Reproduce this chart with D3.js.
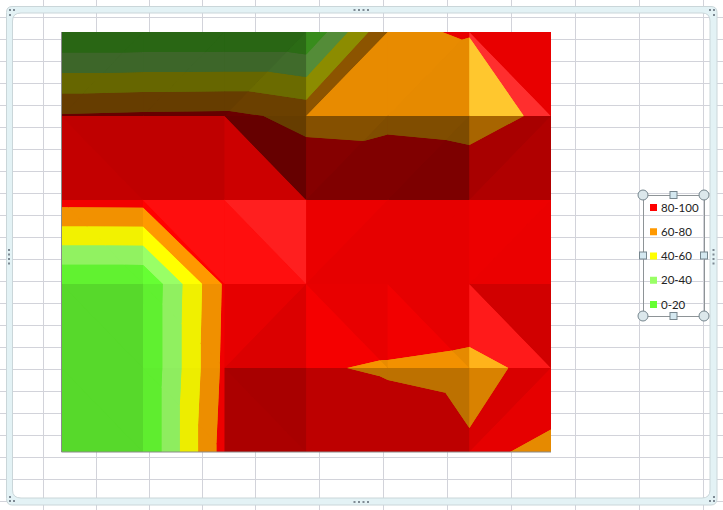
<!DOCTYPE html>
<html><head><meta charset="utf-8">
<script src="https://cdn.jsdelivr.net/npm/d3@7"></script>
<style>html,body{margin:0;padding:0;background:#fff;overflow:hidden}svg{display:block}</style>
</head><body><svg id="c" width="723" height="510"></svg>
<script>
// ---- data ----
const columns = ["C1","C2","C3","C4","C5","C6","C7"];
const rows = ["R1","R2","R3","R4","R5","R6"];
const r1 = [0, 0, 0, 0, 78.6, 80.7, 90];
const r2 = [82, 84, 85, 74.5, 73, 70, 85];
const r3 = [87.5, 88, 95, 96.5, 105, 99, 95];
const r4 = [0, 0, 83, 100, 99, 95, 90];
const r5 = [0, 0, 85, 82, 78, 75, 85.5];
const r6 = [0, 0, 89, 98.5, 92, 82, 78];
const surface = [r1, r2, r3, r4, r5, r6];
const bandNames = ["80-100", "60-80", "40-60", "20-40", "0-20"];
const bandLows = [80, 60, 40, 20, -1];
const bandHighs = [110, 80, 60, 40, 20];
const bandColors = ["#FF0000", "#FF9900", "#FFFF00", "#99FF66", "#66FF33"];
// split of each cell into two facets: "/" or "\\"
const splits = [
  ["/", "/", "/", "/", "/", "\\"],
  ["\\", "\\", "\\", "/", "/", "/"],
  ["\\", "\\", "\\", "/", "/", "/"],
  ["\\", "\\", "/", "\\", "\\", "\\"],
  ["\\", "\\", "\\", "/", "/", "/"]
];
// lighting of the two facets of each cell
const lightA = [
  [.40, .40, .40, .55, .91, 1.19],
  [.765, .75, .80, .52, .50, .66],
  [.95, 1.00, 1.06, .92, .90, .93],
  [.85, .94, .90, .96, .95, 1.11],
  [.85, .93, .67, .74, .74, .85]
];
const lightB = [
  [.40, .40, .42, .91, .90, .91],
  [.75, .75, .40, .50, .49, .69],
  [.95, 1.06, 1.13, .90, .90, .92],
  [.85, .94, .86, .91, .90, .82],
  [.85, .93, .66, .74, .74, .90]
];
const sheetColWidths = [53, 53, 53, 53, 64, 64, 64, 64, 64, 64, 64];
const sheetRowCount = 23;

// ---- scales ----
const x = d3.scalePoint().domain(columns).range([61.5, 551]);
const y = d3.scalePoint().domain(rows).range([32, 452]);
const svg = d3.select("#c");

// ---- worksheet grid ----
const gridColor = "#D2D3DA";
const grid = svg.append("g").attr("stroke", gridColor).attr("stroke-width", 1);
const colEdges = d3.cumsum([43.5, ...sheetColWidths]);
grid.selectAll(".v").data(colEdges).join("line").attr("x1", d => d).attr("x2", d => d).attr("y1", 0).attr("y2", 510);
grid.selectAll(".h").data(d3.range(sheetRowCount)).join("line")
  .attr("x1", 0).attr("x2", 723).attr("y1", d => 17.5 + 22 * d).attr("y2", d => 17.5 + 22 * d);

// ---- selection frame of the chart area ----
const frame = svg.append("g");
frame.append("path")
  .attr("fill-rule", "evenodd")
  .attr("fill", "#E3F2F5")
  .attr("stroke", "#CAD6D9")
  .attr("d", "M12,6.5 H711 Q717,6.5 717,12.5 V498.5 Q717,505 711,505 H12 Q6.5,505 6.5,498.5 V12.5 Q6.5,6.5 12,6.5 Z" +
             "M21,13 H702 Q710,13 710,21 V490 Q710,498 702,498 H21 Q12.5,498 12.5,490 V21 Q12.5,13 21,13 Z");
const dots = [];
[354.5, 359, 363.5, 368].forEach(v => { dots.push([v, 10]); dots.push([v, 502]); });
[250, 254.5, 259, 263.5].forEach(v => { dots.push([9, v]); dots.push([713.5, v]); });
[[10, 10], [14, 10], [10, 15], [10, 497], [10, 501], [14, 501], [714, 10], [710, 10], [714, 15], [714, 497], [714, 501], [710, 501]].forEach(d => dots.push(d));
frame.selectAll("rect").data(dots).join("rect")
  .attr("x", d => d[0] - 1).attr("y", d => d[1] - 1).attr("width", 2).attr("height", 2).attr("fill", "#7E8A94");

// ---- surface ----
function shade(hex, f) {
  const c = d3.rgb(hex);
  if (f <= 1) return d3.rgb(c.r * f, c.g * f, c.b * f).formatHex();
  const add = (f - 1) * 240;
  return d3.rgb(Math.min(255, c.r + add), Math.min(255, c.g + add), Math.min(255, c.b + add)).formatHex();
}
function clip(poly, limit, keepAbove) {
  const out = [];
  const inside = p => keepAbove ? p[2] >= limit : p[2] <= limit;
  poly.forEach((p, i) => {
    const q = poly[(i + 1) % poly.length];
    const pi = inside(p), qi = inside(q);
    if (pi) out.push(p);
    if (pi !== qi) {
      const t = (limit - p[2]) / (q[2] - p[2]);
      out.push([p[0] + (q[0] - p[0]) * t, p[1] + (q[1] - p[1]) * t, limit]);
    }
  });
  return out;
}
const node = (i, j) => [x(columns[i]), y(rows[j]), surface[j][i]];
const facets = [];
splits.forEach((row, j) => row.forEach((s, i) => {
  const tl = node(i, j), tr = node(i + 1, j), bl = node(i, j + 1), br = node(i + 1, j + 1);
  if (s === "/") {
    facets.push({ pts: [tl, tr, bl], f: lightA[j][i] });
    facets.push({ pts: [tr, bl, br], f: lightB[j][i] });
  } else {
    facets.push({ pts: [tl, bl, br], f: lightA[j][i] });
    facets.push({ pts: [tl, tr, br], f: lightB[j][i] });
  }
}));
const polys = [];
facets.forEach(fc => bandNames.forEach((b, k) => {
  let p = clip(fc.pts, bandLows[k], true);
  if (p.length) p = clip(p, bandHighs[k], false);
  if (p.length > 2) polys.push({ p, color: shade(bandColors[k], fc.f) });
}));
const line = d3.line().x(d => d[0]).y(d => d[1]);
// backing layer closes antialiasing seams, clean layer keeps the facet edges exact
const clipId = svg.append("defs").append("clipPath").attr("id", "plot");
clipId.append("rect").attr("x", x.range()[0]).attr("y", y.range()[0])
  .attr("width", x.range()[1] - x.range()[0]).attr("height", y.range()[1] - y.range()[0]);
const surf = svg.append("g").attr("clip-path", "url(#plot)");
surf.append("g").selectAll("path").data(polys).join("path")
  .attr("d", d => line(d.p) + "Z")
  .attr("fill", d => d.color).attr("stroke", d => d.color).attr("stroke-width", 1);
surf.append("g").selectAll("path").data(polys).join("path")
  .attr("d", d => line(d.p) + "Z")
  .attr("fill", d => d.color);
svg.append("path")
  .attr("d", `M${x.range()[0]},${y.range()[0]} V${y.range()[1]} H${x.range()[1]}`)
  .attr("fill", "none").attr("stroke", "#8A8A8A").attr("stroke-width", 1);

// ---- legend ----
const leg = svg.append("g");
const legY = d3.scalePoint().domain(bandNames).range([207.5, 304.5]);
leg.append("rect").attr("x", 643.5).attr("y", 195.5).attr("width", 61).attr("height", 121)
  .attr("fill", "none").attr("stroke", "#8E9497").attr("stroke-width", 1);
bandNames.forEach((b, k) => {
  leg.append("rect").attr("x", 650).attr("y", legY(b) - 3.5).attr("width", 7).attr("height", 7).attr("fill", bandColors[k]);
  leg.append("text").attr("x", 661).attr("y", legY(b) + 4).text(b)
    .attr("font-family", "Lato, 'Open Sans', sans-serif").attr("font-size", 11.5).attr("fill", "#222");
});
[[643, 195], [704, 195], [643, 316], [704, 316]].forEach(c =>
  leg.append("circle").attr("cx", c[0]).attr("cy", c[1]).attr("r", 5).attr("fill", "#DCE8EC").attr("stroke", "#76868E"));
[[673.5, 195], [673.5, 316], [643, 255.5], [704, 255.5]].forEach(c =>
  leg.append("rect").attr("x", c[0] - 3.5).attr("y", c[1] - 3.5).attr("width", 7).attr("height", 7)
    .attr("fill", "#D4E8F0").attr("stroke", "#76868E"));
</script></body></html>
